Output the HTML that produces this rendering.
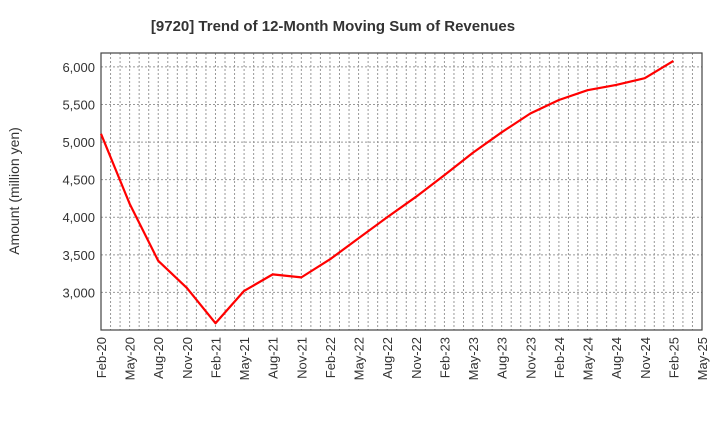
<!DOCTYPE html>
<html><head><meta charset="utf-8"><style>
body{margin:0;background:#fff;font-family:"Liberation Sans",sans-serif;}
svg text{font-family:"Liberation Sans",sans-serif;}
</style></head><body>
<svg id="c" width="720" height="440">
<text x="333" y="31" text-anchor="middle" font-size="15" font-weight="bold" fill="#333">[9720]  Trend of 12-Month Moving Sum of Revenues</text>
<text transform="translate(19,191) rotate(-90)" text-anchor="middle" font-size="14" fill="#333">Amount (million yen)</text>
</svg>
<script>
const xLabels=["Feb-20","May-20","Aug-20","Nov-20","Feb-21","May-21","Aug-21","Nov-21","Feb-22","May-22","Aug-22","Nov-22","Feb-23","May-23","Aug-23","Nov-23","Feb-24","May-24","Aug-24","Nov-24","Feb-25","May-25"];
const yTicks=[3000,3500,4000,4500,5000,5500,6000];
const revenues=[5110,4180,3420,3060,2590,3020,3240,3200,3440,3720,4000,4270,4560,4860,5130,5380,5560,5690,5760,5850,6080];
const L=101,R=702,T=53,B=330,yMin=2500,yMax=6185,months=63;
const sx=m=>L+(R-L)*m/months;
const sy=v=>B-(B-T)*(v-yMin)/(yMax-yMin);
const svg=document.getElementById('c');const NS='http://www.w3.org/2000/svg';
function mk(t,a){const e=document.createElementNS(NS,t);for(const k in a)e.setAttribute(k,a[k]);svg.appendChild(e);return e;}
for(let m=1;m<months;m++){const g=mk('line',{x1:sx(m),x2:sx(m),y1:T,y2:B,stroke:'#999','stroke-dasharray':'2,2','stroke-width':1});

}
yTicks.forEach(v=>{const g=mk('line',{x1:L,x2:R,y1:sy(v),y2:sy(v),stroke:'#999','stroke-dasharray':'2,2'});


const t=mk('text',{x:L-6,y:sy(v)+5,'text-anchor':'end','font-size':13,fill:'#333'});t.textContent=v.toLocaleString('en-US');

});
xLabels.forEach((l,i)=>{const x=sx(i*3);const t=mk('text',{transform:`translate(${x+5},337) rotate(-90)`,'text-anchor':'end','font-size':13,fill:'#333'});t.textContent=l;

});
const f=mk('rect',{x:L,y:T,width:R-L,height:B-T,fill:'none',stroke:'#444','stroke-width':1.2});


const p=mk('polyline',{points:revenues.map((v,i)=>sx(i*3)+','+sy(v)).join(' '),fill:'none',stroke:'#f00','stroke-width':2.2,'stroke-linejoin':'round'});


</script>
</body></html>
